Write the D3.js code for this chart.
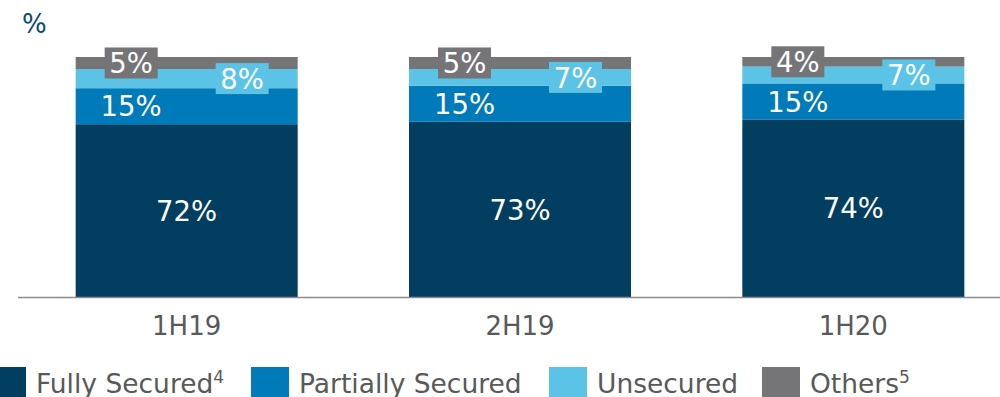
<!DOCTYPE html>
<html><head><meta charset="utf-8">
<script src="https://cdn.jsdelivr.net/npm/d3@7"></script>
<style>body{margin:0;background:#fff}svg{display:block;font-family:"DejaVu Sans",Verdana,sans-serif}</style>
</head><body><svg id="c" width="1000" height="397"></svg>
<script>
const categories = ["1H19", "2H19", "1H20"];
const fullySecured = [72, 73, 74];
const partiallySecured = [15, 15, 15];
const unsecured = [8, 7, 7];
const others = [5, 5, 4];
const seriesNames = ["Fully Secured", "Partially Secured", "Unsecured", "Others"];
const seriesSup = ["4", "", "", "5"];
const colors = ["#023e5f", "#007ab8", "#5bc4e6", "#757577"];

const svg = d3.select("#c");
const x = d3.scaleBand().domain(categories).range([20, 1020]).paddingInner(0.5).paddingOuter(0.25);
const y = d3.scaleLinear().domain([0, 100]).range([297, 57]);

const rows = categories.map((c, i) => ({cat: c, s0: fullySecured[i], s1: partiallySecured[i], s2: unsecured[i], s3: others[i]}));
const stack = d3.stack().keys(["s0", "s1", "s2", "s3"])(rows);

const bw = 222;
const bx = c => x(c) + x.bandwidth() / 2 - bw / 2;

stack.forEach((layer, li) => {
  svg.append("g").selectAll("rect").data(layer).join("rect")
    .attr("x", d => bx(d.data.cat)).attr("width", bw)
    .attr("y", d => y(d[1])).attr("height", d => y(d[0]) - y(d[1]))
    .attr("fill", colors[li]);
});

// axis
const axis = svg.append("g").attr("transform", "translate(0,297)")
  .call(d3.axisBottom(x).tickSize(0));
axis.select(".domain").remove();
axis.selectAll("text").attr("y", 38).attr("dy", "0").attr("font-size", 26).attr("fill", "#595959")
  .attr("font-family", "DejaVu Sans, Verdana, sans-serif");
svg.append("line").attr("x1", 18).attr("x2", 1000).attr("y1", 297.5).attr("y2", 297.5).attr("stroke", "#8c8c8c").attr("stroke-width", 1.5);

// labels
const fs = 27.5;
stack.forEach((layer, li) => {
  layer.forEach(d => {
    const v = d[1] - d[0];
    const txt = v + "%";
    const cx = li === 0 ? bx(d.data.cat) + bw / 2 : li === 2 ? bx(d.data.cat) + bw * 0.75 : bx(d.data.cat) + bw * 0.25;
    const cy = (y(d[0]) + y(d[1])) / 2;
    if (li >= 2) {
      svg.append("rect").attr("x", cx - 26.5).attr("y", cy - 15.5).attr("width", 53).attr("height", 31).attr("fill", colors[li]);
    }
    svg.append("text").attr("x", cx).attr("y", cy).attr("text-anchor", "middle").attr("dy", "0.37em")
      .attr("font-size", fs).attr("fill", "#fff").text(txt);
  });
});

// % unit
svg.append("text").attr("x", 22).attr("y", 33).attr("font-size", 26).attr("fill", "#0d4a72").text("%");

// legend
const legX = [-12, 251, 549, 762];
seriesNames.forEach((n, i) => {
  const g = svg.append("g").attr("transform", `translate(${legX[i]},0)`);
  g.append("rect").attr("x", 0).attr("y", 367).attr("width", 38).attr("height", 38).attr("fill", colors[i]);
  const t = g.append("text").attr("x", 48).attr("y", 393).attr("font-size", 26.5).attr("fill", "#595959").text(n);
  if (seriesSup[i]) t.append("tspan").attr("dy", -10).attr("font-size", 17).text(seriesSup[i]);
});
</script></body></html>
